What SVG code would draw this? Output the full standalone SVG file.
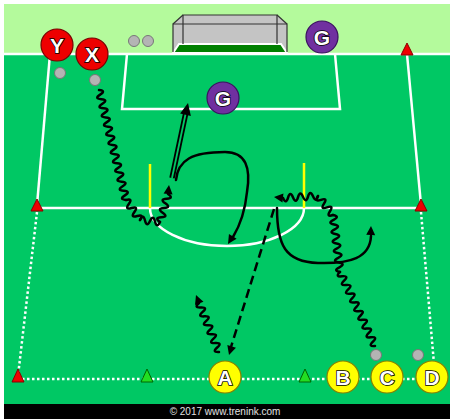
<svg xmlns="http://www.w3.org/2000/svg" width="450" height="419" viewBox="0 0 450 419">
<defs>
<style>
.wl{fill:none;stroke:#fff;stroke-width:2.5}
.dot{fill:none;stroke:#fff;stroke-width:2.5;stroke-dasharray:2.5 2.5}
.wv{fill:none;stroke:#000;stroke-width:2.5;stroke-linejoin:round;stroke-linecap:round}
.run{fill:none;stroke:#000;stroke-width:2.5;stroke-linecap:round}
.ball{fill:#b4b4b4;stroke:#777;stroke-width:1}
.red{fill:#ee0000;stroke:#700;stroke-width:1.2}
.pur{fill:#7030a0;stroke:#3a1060;stroke-width:1.2}
.yel{fill:#ffff00;stroke:#8a8000;stroke-width:1.2}
.lt{font-family:"Liberation Sans",Arial,sans-serif;font-weight:bold;font-size:21px;fill:#fff;stroke:#000;stroke-width:1.6;paint-order:stroke;text-anchor:middle}
.cr{fill:#ee0000;stroke:#800;stroke-width:1}
.cg{fill:#22dd22;stroke:#060;stroke-width:1}
</style>
<path id="ah" d="M0,0 L-9,-4.5 L-9,4.5 Z" fill="#000"/>
</defs>
<rect width="450" height="419" fill="#fff"/>
<rect x="4" y="4" width="446" height="50" fill="#b4fa9c"/>
<rect x="4" y="54" width="446" height="350" fill="#00c864"/>
<rect x="4" y="404" width="446" height="15" fill="#000"/>
<text x="225" y="415" font-family="'Liberation Sans',Arial,sans-serif" font-size="10" fill="#e0e0e0" text-anchor="middle">© 2017 www.trenink.com</text>

<g id="pitch">
<line class="wl" x1="4" y1="54" x2="450" y2="54"/>
<polyline class="wl" points="127,54 122,109 340,109 335,54"/>
<line class="wl" x1="50" y1="54" x2="37" y2="205"/>
<line class="wl" x1="407" y1="54" x2="421" y2="205"/>
<line class="wl" x1="37" y1="208" x2="421" y2="208"/>
<path class="wl" d="M150,208 A77,38 0 0 0 304,208"/>
<line class="dot" x1="37" y1="212" x2="18" y2="376"/>
<line class="dot" x1="421" y1="212" x2="434" y2="364"/>
<line class="dot" x1="22" y1="379" x2="420" y2="379"/>
<line stroke="#ffff00" stroke-width="2.5" x1="150" y1="164" x2="150" y2="208"/>
<line stroke="#ffff00" stroke-width="2.5" x1="304" y1="163" x2="304" y2="208"/>
</g>

<g id="goal">
<polygon points="173,24 183,15 277,15 287,24 287,52 173,52" fill="#c4c4c4"/>
<polygon points="179,44 281,44 287,53 173,53" fill="#008000" stroke="#fff" stroke-width="2"/>
<g fill="none" stroke="#333" stroke-width="1.2">
<polyline points="183,44 183,15 277,15 277,44"/>
<polyline points="173,52 173,24 287,24 287,52"/>
<line x1="173" y1="24" x2="183" y2="15"/>
<line x1="287" y1="24" x2="277" y2="15"/>
</g>
</g>

<g id="cones">
<polygon class="cr" points="407,43 401,55 413,55"/>
<polygon class="cr" points="37,199 31,211 43,211"/>
<polygon class="cr" points="421,199 415,211 427,211"/>
<polygon class="cr" points="18,369 12,382 24,382"/>
<polygon class="cg" points="147,369 141,382 153,382"/>
<polygon class="cg" points="305,369 299,382 311,382"/>
</g>

<g id="connectors">
<path class="wv" transform="translate(99,90) rotate(76.2)" d="M0,0 q2.36,-7 4.72,0 t4.72,0 t4.72,0 t4.72,0 t4.72,0 t4.72,0 t4.72,0 t4.72,0 t4.72,0 t4.72,0 t4.72,0 t4.72,0 t4.72,0 t4.72,0 t4.72,0 t4.72,0 t4.72,0 t4.72,0 t4.72,0 t4.72,0 t4.72,0 t4.72,0 t4.72,0 t4.72,0"/>
<path class="wv" transform="translate(126,200) rotate(55)" d="M0,0 q2.44,-7 4.88,0 t4.88,0 t4.88,0 t4.88,0 t4.88,0"/>
<path class="wv" transform="translate(140,220) rotate(5.7)" d="M0,0 q2.51,-7 5.02,0 t5.02,0 t5.02,0 t5.02,0"/>
<path class="wv" transform="translate(160,222) rotate(-74)" d="M0,0 q2.42,-7 4.85,0 t4.85,0 t4.85,0 t4.85,0 t4.85,0 t4.85,0"/>
<use href="#ah" transform="translate(169,185) rotate(-84)"/>

<path class="wv" transform="translate(375,346) rotate(-115.3)" d="M0,0 q2.41,-7 4.82,0 t4.82,0 t4.82,0 t4.82,0 t4.82,0 t4.82,0 t4.82,0 t4.82,0 t4.82,0 t4.82,0 t4.82,0 t4.82,0 t4.82,0 t4.82,0 t4.82,0 t4.82,0 t4.82,0"/>
<path class="wv" transform="translate(340,272) rotate(-97)" d="M0,0 q2.39,-7 4.78,0 t4.78,0 t4.78,0 t4.78,0 t4.78,0 t4.78,0 t4.78,0 t4.78,0 t4.78,0 t4.78,0 t4.78,0 t4.78,0"/>
<path class="wv" transform="translate(333,215) rotate(-128.3)" d="M0,0 q2.42,-7 4.84,0 t4.84,0 t4.84,0 t4.84,0 t4.84,0"/>
<path class="wv" transform="translate(318,196) rotate(176.7)" d="M0,0 q2.5,-7 5,0 t5,0 t5,0 t5,0 t5,0 t5,0 t5,0"/>
<use href="#ah" transform="translate(274,197) rotate(186)"/>

<path class="wv" transform="translate(219,352) rotate(-112.2)" d="M0,0 q2.4,-7 4.81,0 t4.81,0 t4.81,0 t4.81,0 t4.81,0 t4.81,0 t4.81,0 t4.81,0 t4.81,0 t4.81,0 t4.81,0"/>
<use href="#ah" transform="translate(196,295) rotate(-111)"/>

<line x1="172" y1="178" x2="186" y2="112" stroke="#000" stroke-width="5.5"/>
<line x1="172" y1="178" x2="186" y2="112" stroke="#00c864" stroke-width="1.8"/>
<path d="M0,0 L-12,-5.5 L-12,5.5 Z" fill="#000" transform="translate(188,103) rotate(-78)"/>

<path class="run" d="M176,180 C178,160 192,152 225,152 C246,152 251,168 247,192 C245,212 239,227 233,237"/>
<use href="#ah" transform="translate(228,244) rotate(122)"/>

<path class="run" d="M277,208 C277,245 285,262 318,263 C350,264 370,258 371,236"/>
<use href="#ah" transform="translate(371,226) rotate(-88)"/>

<line x1="274" y1="209" x2="231" y2="347" stroke="#000" stroke-width="2.5" stroke-dasharray="9 5"/>
<use href="#ah" transform="translate(229,355) rotate(107)"/>
</g>

<g id="ball1"><circle class="ball" cx="60" cy="73" r="5.5"/></g>
<g id="ball2"><circle class="ball" cx="95" cy="80" r="5.5"/></g>
<g id="ball3"><circle class="ball" cx="134" cy="41" r="5.5"/></g>
<g id="ball4"><circle class="ball" cx="148" cy="41" r="5.5"/></g>
<g id="ball5"><circle class="ball" cx="376" cy="355" r="5.5"/></g>
<g id="ball6"><circle class="ball" cx="418" cy="355" r="5.5"/></g>

<g id="playerY"><circle class="red" cx="57" cy="45" r="16"/><text class="lt" x="57" y="52.5">Y</text></g>
<g id="playerX"><circle class="red" cx="92" cy="54" r="16"/><text class="lt" x="92" y="61.5">X</text></g>
<g id="playerG1"><circle class="pur" cx="322" cy="37" r="16"/><text class="lt" x="322" y="44.5">G</text></g>
<g id="playerG2"><circle class="pur" cx="223" cy="98" r="16"/><text class="lt" x="223" y="105.5">G</text></g>
<g id="playerA"><circle class="yel" cx="225" cy="377" r="16"/><text class="lt" x="225" y="384.5">A</text></g>
<g id="playerB"><circle class="yel" cx="343" cy="377" r="16"/><text class="lt" x="343" y="384.5">B</text></g>
<g id="playerC"><circle class="yel" cx="387" cy="377" r="16"/><text class="lt" x="387" y="384.5">C</text></g>
<g id="playerD"><circle class="yel" cx="432" cy="377" r="16"/><text class="lt" x="432" y="384.5">D</text></g>
</svg>
